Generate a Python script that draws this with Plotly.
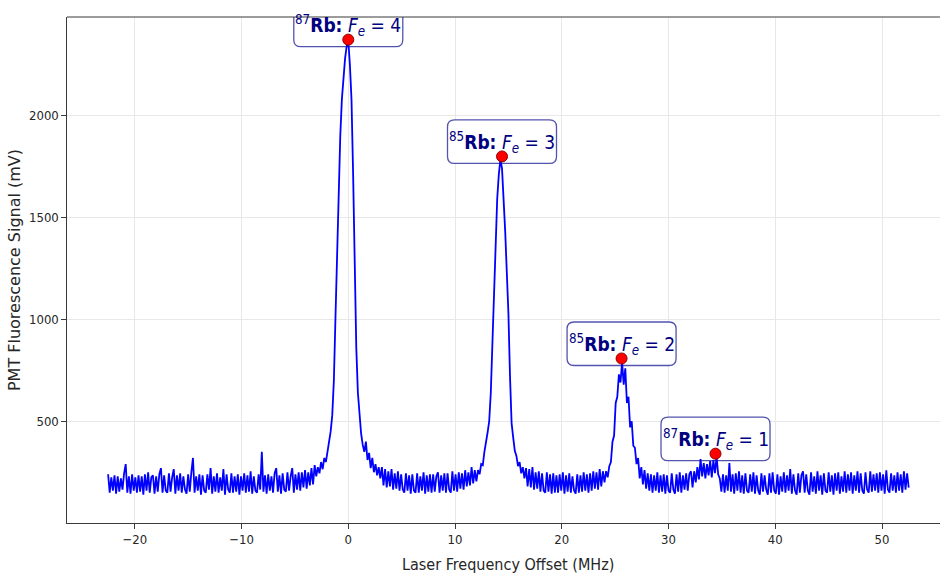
import numpy as np
import plotly.graph_objects as go

# ---------------- data ----------------
freq_start = -22.5      # MHz, first sample
freq_step = 0.15        # MHz between samples

signal_mv = [
    # -22.5 .. -3.15
    240, 150, 225, 160, 235, 145, 230, 155, 220, 165,
    245, 290, 150, 230, 145, 240, 160, 225, 150, 235,
    155, 230, 140, 240, 160, 250, 150, 225, 235, 145,
    230, 155, 240, 270, 150, 235, 160, 150, 245, 155,
    225, 265, 145, 235, 160, 245, 150, 230, 165, 145,
    240, 155, 250, 320, 150, 230, 160, 240, 140, 235,
    160, 150, 240, 165, 270, 145, 230, 155, 245, 150,
    225, 160, 265, 140, 240, 165, 150, 245, 150, 230,
    155, 240, 140, 230, 160, 245, 150, 235, 155, 255,
    145, 230, 160, 150, 240, 165, 350, 155, 235, 145,
    240, 160, 230, 150, 245, 270, 155, 235, 145, 245,
    165, 155, 250, 160, 230, 270, 150, 240, 165, 250,
    160, 250, 175, 260, 170, 250, 185, 270, 190, 285,
    # -3.0 .. 3.0  (87Rb F'=4)
    230, 275, 245, 300, 265, 320, 300, 350, 400, 450,
    530, 700, 1010, 1330, 1520, 1900, 2080, 2190, 2280, 2340,
    2365, 2250, 2080, 1720, 1250, 860, 640, 520, 440, 385,
    350, 400, 310, 345, 270, 320, 250, 290, 235, 275,
    220,
    # 3.15 .. 11.85
    275, 185, 265, 175, 255, 180, 265, 165, 245, 170,
    255, 160, 240, 165, 150, 245, 160, 235, 145, 240,
    160, 150, 245, 150, 230, 160, 250, 145, 235, 155,
    240, 150, 240, 155, 230, 250, 150, 235, 160, 245,
    150, 245, 165, 150, 255, 160, 240, 155, 250, 170,
    245, 165, 260, 180, 250, 185, 275, 195, 260,
    # 12.0 .. 16.5  (85Rb F'=3)
    205, 260, 240, 290, 285, 350, 390, 445, 500, 640,
    880, 1150, 1400, 1590, 1710, 1785, 1740, 1600, 1430, 1230,
    1030, 720, 490, 420, 355, 330, 280, 300, 245, 275,
    220,
    # 16.65 .. 23.85
    270, 180, 265, 175, 275, 165, 250, 170, 255, 155,
    245, 160, 150, 250, 155, 240, 145, 245, 150, 235,
    150, 240, 160, 250, 145, 235, 155, 245, 150, 230,
    160, 145, 240, 150, 235, 155, 250, 160, 240, 150,
    245, 160, 255, 170, 250, 165, 265, 180, 255,
    # 24.0 .. 27.0  (85Rb F'=2)
    200, 255, 225, 280, 300, 400, 430, 590, 620, 730,
    690, 790, 680, 760, 590, 620, 470, 500, 380, 370,
    290,
    # 27.15 .. 52.5  (87Rb F'=1 bump near 34 MHz)
    320, 220, 275, 190, 260, 170, 245, 160, 240, 150,
    235, 160, 250, 150, 235, 155, 240, 145, 235, 160,
    150, 245, 165, 145, 240, 155, 250, 150, 235, 165,
    245, 160, 240, 255, 175, 255, 200,
    275, 215, 315, 230, 295, 220, 290, 235, 305, 225, 310, 245, 325, 240,
    220,
    155, 240, 150, 235, 160, 295, 155, 240,
    145, 245, 160, 255, 150, 235, 145, 245, 160, 150,
    240, 155, 250, 145, 235, 160, 140, 245, 155, 235,
    165, 140, 245, 150, 250, 160, 145, 240, 140, 230,
    155, 250, 150, 235, 160, 265, 145, 240, 160, 140,
    245, 150, 235, 255, 150, 240, 160, 140, 250, 155,
    230, 145, 255, 160, 235, 140, 245, 160, 150, 250,
    155, 235, 140, 245, 160, 250, 145, 230, 155, 255,
    150, 240, 160, 250, 145, 235, 160, 255, 150, 245,
    160, 145, 250, 165, 150, 255, 155, 240, 160, 245,
    150, 250, 160, 240, 145, 260, 165, 150, 245, 160,
    235, 150, 250, 160, 240, 150, 255, 165, 245, 175,
]

peak_freq = [0.0, 14.4, 25.6, 34.4]
peak_mv = [2372, 1799, 808, 341]
peak_isotope = ["87", "85", "85", "87"]
peak_fe = ["4", "3", "2", "1"]

x_ticks = [-20, -10, 0, 10, 20, 30, 40, 50]
y_ticks = [500, 1000, 1500, 2000]

freq = freq_start + freq_step * np.arange(len(signal_mv))

# ---------------- styling ----------------
COND = "DejaVu Sans Condensed, Liberation Sans Narrow, DejaVu Sans, sans-serif"
REG = "DejaVu Sans, sans-serif"
AX = "#3a3a3a"
TXT = "#262626"
NAVY = "#000080"

fig = go.Figure()
fig.add_trace(go.Scatter(
    x=freq, y=signal_mv, mode="lines",
    line=dict(color="#0000ff", width=1.8),
    hoverinfo="skip", showlegend=False,
))
fig.add_trace(go.Scatter(
    x=peak_freq, y=peak_mv, mode="markers",
    marker=dict(color="#ff0000", size=11, line=dict(color="#8b0000", width=1)),
    showlegend=False,
))

r = 7
x0, x1, y0, y1 = -54.5, 54.5, -7, 36.5
box_path = (
    f"M {x0+r},{y0} L {x1-r},{y0} Q {x1},{y0} {x1},{y0+r} "
    f"L {x1},{y1-r} Q {x1},{y1} {x1-r},{y1} L {x0+r},{y1} "
    f"Q {x0},{y1} {x0},{y1-r} L {x0},{y0+r} Q {x0},{y0} {x0+r},{y0} Z"
)

shapes = []
annotations = []
for px, py, iso, fe in zip(peak_freq, peak_mv, peak_isotope, peak_fe):
    shapes.append(dict(
        type="path", xref="x", yref="y",
        xsizemode="pixel", ysizemode="pixel", xanchor=px, yanchor=py,
        path=box_path, fillcolor="rgba(255,255,255,0.92)",
        line=dict(color="rgba(25,25,150,0.75)", width=1.3),
        layer="between",
    ))
    annotations.append(dict(
        x=px, y=py, xref="x", yref="y", showarrow=False,
        xanchor="center", yanchor="middle", yshift=14,
        text=f"<sup>{iso}</sup><b>Rb:</b> <i>F</i><sub><i>e</i></sub> = {fe}",
        font=dict(family=COND, size=19, color=NAVY),
    ))

# top spine
shapes.append(dict(type="line", xref="paper", yref="paper", x0=0, x1=1, y0=1, y1=1,
                   line=dict(color=AX, width=1.2), layer="above"))

annotations.append(dict(
    x=0.5, y=0, xref="paper", yref="paper", yshift=-41, xshift=4,
    xanchor="center", yanchor="middle", showarrow=False,
    text="Laser Frequency Offset (MHz)",
    font=dict(family=COND, size=16, color=TXT),
))

fig.update_layout(
    width=940, height=578,
    margin=dict(l=67, r=0, t=17, b=55),
    paper_bgcolor="white", plot_bgcolor="white",
    shapes=shapes, annotations=annotations,
    showlegend=False,
)
fig.update_xaxes(
    range=[-26.35, 55.43], tickvals=x_ticks,
    showgrid=True, gridcolor="#e8e8e8", gridwidth=1, zeroline=False,
    showline=True, linecolor=AX, linewidth=1.2,
    ticks="outside", ticklen=4.5, tickcolor=AX, tickwidth=1,
    tickfont=dict(family=COND, size=13, color=TXT),
)
fig.update_yaxes(
    range=[1, 2483], tickvals=y_ticks,
    showgrid=True, gridcolor="#e8e8e8", gridwidth=1, zeroline=False,
    showline=True, linecolor=AX, linewidth=1.2,
    ticks="outside", ticklen=4.5, tickcolor=AX, tickwidth=1,
    tickfont=dict(family=COND, size=13, color=TXT),
    title=dict(text="PMT Fluorescence Signal (mV)", standoff=4,
               font=dict(family=REG, size=16, color=TXT)),
)

fig.write_html("out.html")
